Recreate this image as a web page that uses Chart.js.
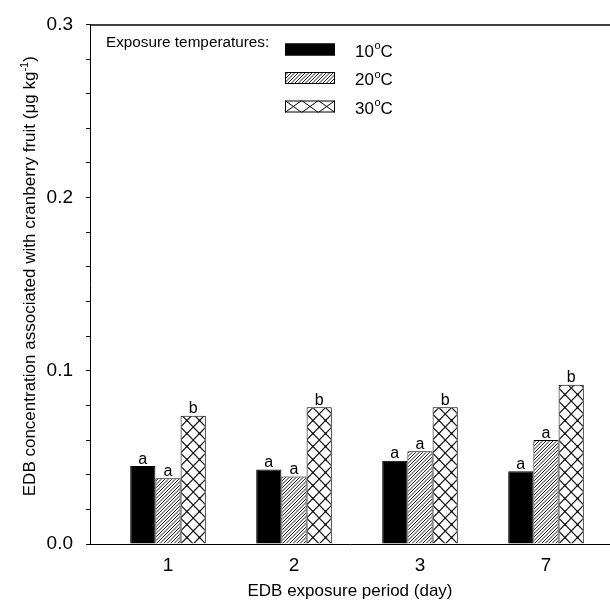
<!DOCTYPE html>
<html><head><meta charset="utf-8">
<script src="https://cdn.jsdelivr.net/npm/chart.js@4.4.1/dist/chart.umd.min.js"></script>
<style>html,body{margin:0;padding:0;background:#fff;}#wrap{width:610px;height:602px;}</style>
</head><body><div id="wrap"><canvas id="c" width="610" height="602"></canvas></div>
<script>
// ---- data ----
const categories = ['1', '2', '3', '7'];
const seriesTemps = ['10', '20', '30'];
const temp10 = [0.045, 0.043, 0.048, 0.042];
const temp20 = [0.038, 0.039, 0.0535, 0.060];
const temp30 = [0.074, 0.079, 0.079, 0.092];
const letters10 = ['a', 'a', 'a', 'a'];
const letters20 = ['a', 'a', 'a', 'a'];
const letters30 = ['b', 'b', 'b', 'b'];
const yTicks = [0.0, 0.1, 0.2, 0.3];
const xTitle = 'EDB exposure period (day)';
const yTitleMain = 'EDB concentration associated with cranberry fruit (\u03bcg kg';
const yTitleSup = '-1';
const legendTitle = 'Exposure temperatures:';

const FONT = "'Liberation Sans', Arial, Helvetica, sans-serif";
Chart.defaults.font.family = FONT;
Chart.defaults.color = '#000';

function hatchTile() {
  const c = document.createElement('canvas');
  c.width = 7; c.height = 7;
  const g = c.getContext('2d');
  g.fillStyle = '#fff'; g.fillRect(0, 0, 7, 7);
  g.strokeStyle = '#000'; g.lineWidth = 0.9;
  for (let k = -3; k <= 3; k++) {
    g.beginPath(); g.moveTo(k * 3.5, 7); g.lineTo(k * 3.5 + 7, 0); g.stroke();
  }
  return c;
}
function crossTile() {
  const c = document.createElement('canvas');
  c.width = 20; c.height = 20;
  const g = c.getContext('2d');
  g.fillStyle = '#fff'; g.fillRect(0, 0, 20, 20);
  g.strokeStyle = '#000'; g.lineWidth = 1.7;
  for (let dx = -20; dx <= 20; dx += 20) {
    g.beginPath(); g.moveTo(dx, 0); g.lineTo(dx + 20, 20); g.stroke();
    g.beginPath(); g.moveTo(dx + 20, 0); g.lineTo(dx, 20); g.stroke();
  }
  return c;
}
const HT = hatchTile(), CT = crossTile();
const cv = document.getElementById('c');
const ctx0 = cv.getContext('2d');
const hatchPattern = ctx0.createPattern(HT, 'repeat');

function crossFill(c) {
  const chart = c.chart;
  if (!chart.chartArea || c.dataIndex === undefined) return '#fff';
  const xs = chart.scales.x;
  const w = (xs.getPixelForValue(1) - xs.getPixelForValue(0)) * 0.6 / 3;
  const left = xs.getPixelForValue(c.dataIndex) + w / 2;
  const p = chart.ctx.createPattern(CT, 'repeat');
  p.setTransform(new DOMMatrix().translate(left, chart.chartArea.bottom).scale((w / 2) / 20, 13 / 20));
  return p;
}

const mk = (arr) => arr.map((v, i) => ({ x: i, y: v }));
const letterSets = [letters10, letters20, letters30];

const letterPlugin = {
  id: 'letters',
  afterDatasetsDraw(chart) {
    const ctx = chart.ctx;
    ctx.save();
    ctx.fillStyle = '#000';
    ctx.font = '16px ' + FONT;
    ctx.textAlign = 'center';
    ctx.textBaseline = 'alphabetic';
    chart.data.datasets.forEach((ds, d) => {
      chart.getDatasetMeta(d).data.forEach((el, i) => {
        ctx.fillText(letterSets[d][i], el.x, el.y - 2.5);
      });
    });
    ctx.restore();
  }
};

const decorPlugin = {
  id: 'decor',
  afterDraw(chart) {
    const ctx = chart.ctx, a = chart.chartArea;
    ctx.save();
    // top frame line
    ctx.strokeStyle = '#000'; ctx.lineWidth = 1.5;
    ctx.beginPath(); ctx.moveTo(a.left, a.top + 0.5); ctx.lineTo(a.right, a.top + 0.5); ctx.stroke();
    // y title
    ctx.save();
    ctx.translate(35, (a.top + a.bottom) / 2 - 8);
    ctx.rotate(-Math.PI / 2);
    ctx.fillStyle = '#000';
    ctx.textBaseline = 'alphabetic';
    ctx.font = '17px ' + FONT;
    const w1 = ctx.measureText(yTitleMain).width;
    ctx.font = '11px ' + FONT;
    const w2 = ctx.measureText(yTitleSup).width;
    ctx.font = '17px ' + FONT;
    const w3 = ctx.measureText(')').width;
    let x = -(w1 + w2 + w3) / 2;
    ctx.textAlign = 'left';
    ctx.fillText(yTitleMain, x, 0); x += w1;
    ctx.font = '11px ' + FONT; ctx.fillText(yTitleSup, x, -7); x += w2;
    ctx.font = '17px ' + FONT; ctx.fillText(')', x, 0);
    ctx.restore();
    // legend
    ctx.fillStyle = '#000';
    ctx.textAlign = 'left'; ctx.textBaseline = 'alphabetic';
    ctx.font = '15.3px ' + FONT;
    ctx.fillText(legendTitle, 106, 47);
    const bases = [56.5, 85, 113.5];
    const fills = ['#000', hatchPattern, null];
    seriesTemps.forEach((t, k) => {
      const sx = 285, sw = 50, sh = 12, sy = bases[k] - 13;
      ctx.save();
      if (k === 2) {
        ctx.fillStyle = '#fff'; ctx.fillRect(sx, sy, sw, sh);
        ctx.beginPath(); ctx.rect(sx, sy, sw, sh); ctx.clip();
        ctx.strokeStyle = '#000'; ctx.lineWidth = 1;
        const cw = sw / 3;
        for (let j = 0; j < 3; j++) {
          ctx.beginPath(); ctx.moveTo(sx + j * cw, sy); ctx.lineTo(sx + (j + 1) * cw, sy + sh); ctx.stroke();
          ctx.beginPath(); ctx.moveTo(sx + (j + 1) * cw, sy); ctx.lineTo(sx + j * cw, sy + sh); ctx.stroke();
        }
      } else {
        ctx.fillStyle = fills[k]; ctx.fillRect(sx, sy, sw, sh);
      }
      ctx.restore();
      ctx.strokeStyle = '#000'; ctx.lineWidth = 1;
      ctx.strokeRect(sx + 0.5, sy + 0.5, sw - 1, sh - 1);
      ctx.fillStyle = '#000';
      let x = 355;
      ctx.font = '17px ' + FONT; ctx.fillText(t, x, bases[k]); x += ctx.measureText(t).width;
      ctx.font = '11px ' + FONT; ctx.fillText('o', x + 0.5, bases[k] - 7.5); x += ctx.measureText('o').width + 0.5;
      ctx.font = '17px ' + FONT; ctx.fillText('C', x, bases[k]);
    });
    ctx.restore();
  }
};

new Chart(cv, {
  type: 'bar',
  data: {
    datasets: [
      { label: '10\u00b0C', data: mk(temp10), backgroundColor: '#000', borderColor: '#000', borderWidth: 1 },
      { label: '20\u00b0C', data: mk(temp20), backgroundColor: hatchPattern, borderColor: '#000', borderWidth: 1 },
      { label: '30\u00b0C', data: mk(temp30), backgroundColor: crossFill, borderColor: '#000', borderWidth: 1 }
    ]
  },
  options: {
    responsive: false,
    animation: false,
    devicePixelRatio: 1,
    categoryPercentage: 0.6,
    barPercentage: 1.0,
    layout: { padding: { top: 19, right: 0, left: 0, bottom: 0 } },
    plugins: { legend: { display: false }, tooltip: { enabled: false } },
    scales: {
      x: {
        type: 'linear',
        offset: false,
        min: -0.619, max: 3.508,
        afterBuildTicks: (s) => { s.ticks = categories.map((c, i) => ({ value: i })); },
        afterFit: (s) => { s.height = 58; },
        ticks: { callback: (v) => categories[v] ?? '', font: { size: 19 }, color: '#000', padding: 10, autoSkip: false, maxRotation: 0 },
        grid: { display: false, drawTicks: false, offset: false },
        border: { display: true, color: '#000', width: 1 },
        title: { display: true, text: xTitle, font: { size: 17 }, color: '#000', padding: { top: 0, bottom: 0 } }
      },
      y: {
        min: 0, max: 0.3,
        afterBuildTicks: (s) => {
          const t = [];
          for (let k = 0; k <= 15; k++) t.push({ value: +(k * 0.02).toFixed(2) });
          s.ticks = t;
        },
        afterFit: (s) => { s.width = 90; },
        ticks: {
          font: { size: 19 }, color: '#000', padding: 13, autoSkip: false,
          callback: (v) => { const m = yTicks.find(t => Math.abs(t - v) < 1e-6); return m === undefined ? '' : m.toFixed(1); }
        },
        grid: { drawOnChartArea: false, drawTicks: true, tickLength: 4, color: '#000' },
        border: { display: true, color: '#000', width: 1 }
      }
    }
  },
  plugins: [letterPlugin, decorPlugin]
});
</script></body></html>
